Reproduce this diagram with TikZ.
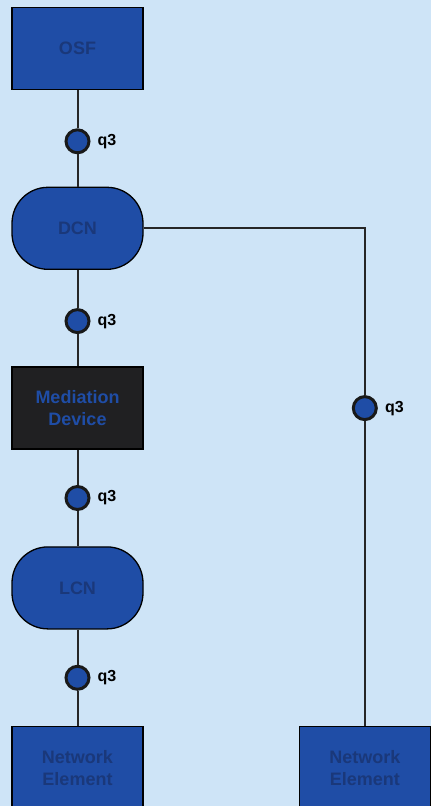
\documentclass[tikz,border=0pt]{standalone}
\usepackage{fontspec}
\setmainfont{Liberation Sans}
\usepackage{xcolor}
\definecolor{tmnblue}{RGB}{31,77,166}
\definecolor{tmnnavy}{RGB}{26,56,122}
\definecolor{tmnsky}{RGB}{206,228,247}
\definecolor{tmnblack}{RGB}{32,32,34}
\usepackage{tikz}
\usetikzlibrary{positioning, calc}
\tikzset{
  unit/.style={
    rectangle, draw=black, line width=1.3pt, fill=tmnblue,
    minimum width=131pt, minimum height=82pt,
    text=tmnnavy, align=center, font=\fontsize{18}{22}\selectfont\bfseries
  },
  netcloud/.style={unit, rounded corners=36pt},
  mediator/.style={unit, fill=tmnblack, text=tmnblue},
  port/.style={
    circle, draw=black!90, line width=3pt, fill=tmnblue,
    minimum size=23pt, inner sep=0pt,
    label={[qlabel]right:q3}
  },
  qlabel/.style={font=\fontsize{16}{18}\selectfont\bfseries, text=black, inner sep=0pt, label distance=7pt},
  link/.style={line width=2pt, color=black!85},
}

\begin{document}
\begin{tikzpicture}[x=1pt, y=1pt, node distance=96.5pt]
  \fill[tmnsky] (0,0) rectangle (431,-806);
  \useasboundingbox (0,0) rectangle (431,-806);

  \node (osf)  [unit]                       at (77.5,-48.5) {OSF};
  \node (dcn)  [netcloud, below=of osf]     {DCN};
  \node (md)   [mediator, below=of dcn]     {Mediation\\Device};
  \node (lcn)  [netcloud, below=of md]      {LCN};
  \node (ne1)  [unit, below=of lcn]         {Network\\Element};
  \node (ne2)  [unit, right=155pt of ne1]   {Network\\Element};

  \node (p1) [port] at ($(osf.south)!0.53!(dcn.north)$) {};
  \node (p2) [port] at ($(dcn.south)!0.53!(md.north)$)  {};
  \node (p3) [port] at ($(md.south)!0.5!(lcn.north)$)   {};
  \node (p4) [port] at ($(lcn.south)!0.5!(ne1.north)$)  {};
  \node (p5) [port] at (ne2 |- md) {};

  \draw [link] (osf) -- (p1) -- (dcn);
  \draw [link] (dcn) -- (p2) -- (md);
  \draw [link] (md)  -- (p3) -- (lcn);
  \draw [link] (lcn) -- (p4) -- (ne1);
  \draw [link] (dcn) -| (p5);
  \draw [link] (p5)  -- (ne2);
\end{tikzpicture}
\end{document}
